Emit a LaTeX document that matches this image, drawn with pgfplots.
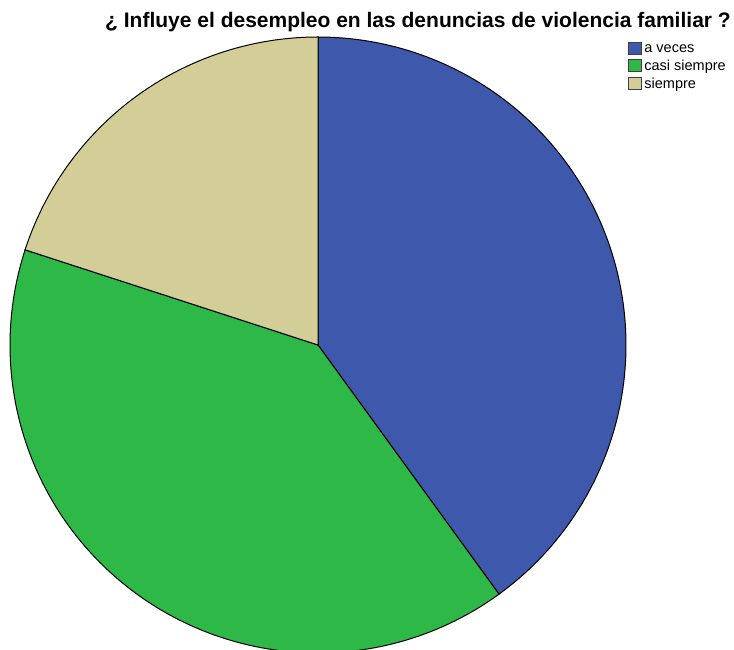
\documentclass[border=0pt]{standalone}
\usepackage{fontspec}
\setmainfont{Liberation Sans}
\usepackage{pgfplots}
\usepackage{pgfplotstable}
\pgfplotsset{compat=1.18}
\definecolor{cA}{RGB}{62,88,172}
\definecolor{cB}{RGB}{46,184,72}
\definecolor{cC}{RGB}{211,206,151}
\pgfplotstableread{
id value
1 40
2 40
3 20
}\piedata
\pgfplotstablegetelem{0}{value}\of\piedata \let\vA\pgfplotsretval
\pgfplotstablegetelem{1}{value}\of\piedata \let\vB\pgfplotsretval
\pgfplotstablegetelem{2}{value}\of\piedata \let\vC\pgfplotsretval
\pgfmathsetmacro{\tot}{\vA+\vB+\vC}
\pgfmathsetmacro{\aA}{90}
\pgfmathsetmacro{\aB}{90-360*\vA/\tot}
\pgfmathsetmacro{\aC}{\aB-360*\vB/\tot}
\pgfmathsetmacro{\aD}{\aC-360*\vC/\tot}
\def\cx{318}\def\cy{-345}\def\rr{308}
\begin{document}
\begin{tikzpicture}
\begin{axis}[
  scale only axis, width=734pt, height=650pt,
  xmin=0, xmax=734, ymin=-650, ymax=0,
  hide axis, clip=true,
  legend style={at={(axis cs:628,-42)}, anchor=north west, draw=none, fill=none,
    font=\fontsize{14.5}{16}\selectfont, row sep=4pt, inner sep=0pt,
    nodes={inner xsep=2.5pt, inner ysep=0.5pt}},
  legend cell align=left,
  legend image code/.code={\draw[#1, draw=black!75, line width=0.7pt] (0pt,-5pt) rectangle (13pt,7pt);},
]
\addplot[fill=cA, draw=black, line width=1pt, domain=\aB:\aA, samples=120, variable=\t]
  ({\cx+\rr*cos(t)},{\cy+\rr*sin(t)}) -- (axis cs:\cx,\cy) -- cycle;
\addlegendentry{a veces}
\addplot[fill=cB, draw=black, line width=1pt, domain=\aC:\aB, samples=120, variable=\t]
  ({\cx+\rr*cos(t)},{\cy+\rr*sin(t)}) -- (axis cs:\cx,\cy) -- cycle;
\addlegendentry{casi siempre}
\addplot[fill=cC, draw=black, line width=1pt, domain=\aD:\aC, samples=80, variable=\t]
  ({\cx+\rr*cos(t)},{\cy+\rr*sin(t)}) -- (axis cs:\cx,\cy) -- cycle;
\addlegendentry{siempre}
\node[anchor=center, font=\fontsize{21}{23}\selectfont\bfseries, inner sep=0pt] at (axis cs:418,-22)
  {¿ Influye el desempleo en las denuncias de violencia familiar ?};
\coordinate (bbA) at (axis cs:0,-650);
\coordinate (bbB) at (axis cs:734,0);
\end{axis}
\pgfresetboundingbox
\path[use as bounding box] (bbA) rectangle (bbB);
\end{tikzpicture}
\end{document}
